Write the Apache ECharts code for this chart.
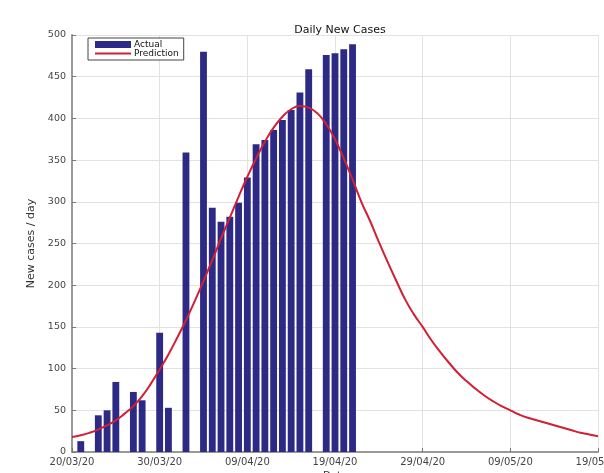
<!DOCTYPE html>
<html>
<head>
<meta charset="utf-8">
<script src="https://cdn.jsdelivr.net/npm/echarts@6/dist/echarts.min.js"></script>
<style>
  html, body { margin: 0; padding: 0; background: #fff; }
  #chart { width: 604px; height: 473px; }
</style>
</head>
<body>
<div id="chart"></div>
<script>
// Day labels from 20/03/20 to 19/05/20 (61 days)
const startDate = new Date(2020, 2, 20);
const dayCount = 61;
const dates = [];
for (let i = 0; i < dayCount; i++) {
  const d = new Date(startDate.getTime() + i * 86400000);
  const dd = String(d.getDate()).padStart(2, '0');
  const mm = String(d.getMonth() + 1).padStart(2, '0');
  dates.push(dd + '/' + mm + '/20');
}

// Reported daily new cases (null = no report that day)
const actual = [
  null, 13, null, 44, 50, 84, null, 72, 62, null,
  143, 53, null, 359, null, 480, 293, 276, 282, 299,
  329, 369, 374, 386, 398, 410, 431, 459, null, 476,
  478, 483, 489, null, null, null, null, null, null, null,
  null, null, null, null, null, null, null, null, null, null,
  null, null, null, null, null, null, null, null, null, null,
  null
];

// Model prediction of daily new cases
const prediction = [
  18, 20, 23, 27, 32, 38, 46, 55, 67, 82,
  99, 117, 137, 158, 181, 205, 230, 256, 281, 306,
  330, 352, 372, 389, 402, 411, 415, 413, 406, 393,
  375, 352, 327, 300, 277, 252, 228, 205, 183, 165,
  150, 134, 120, 107, 95, 85, 76, 68, 61, 55,
  50, 45, 41, 38, 35, 32, 29, 26, 23, 21,
  19
];

const font = 'DejaVu Sans';
const chart = echarts.init(document.getElementById('chart'));
chart.setOption({
  animation: false,
  backgroundColor: '#fff',
  title: {
    text: 'Daily New Cases',
    left: 335, top: 20,
    textAlign: 'center',
    textStyle: { fontFamily: font, fontSize: 11, fontWeight: 'normal', color: '#111' }
  },
  legend: {
    orient: 'vertical',
    left: 88, top: 38,
    padding: [2, 5, 2, 6],
    itemGap: 0,
    itemWidth: 36,
    itemHeight: 7,
    backgroundColor: '#fff',
    borderColor: '#444',
    borderWidth: 1,
    borderRadius: 0,
    textStyle: { fontFamily: font, fontSize: 9, color: '#111', padding: [0, 0, 0, -2] },
    data: [
      { name: 'Actual', icon: 'rect' },
      { name: 'Prediction', itemStyle: { opacity: 0 } }
    ]
  },
  grid: { left: 72, right: 6, top: 35, bottom: 21, containLabel: false, outerBoundsMode: 'none' },
  xAxis: {
    type: 'category',
    data: dates,
    boundaryGap: false,
    name: 'Date',
    nameLocation: 'middle',
    nameGap: 17,
    nameTextStyle: { fontFamily: font, fontSize: 10, color: '#333' },
    axisLine: { lineStyle: { color: '#999', width: 2 } },
    axisTick: { interval: 9, inside: true, length: 4, lineStyle: { color: '#777' } },
    axisLabel: { interval: 9, fontFamily: font, fontSize: 10, color: '#444', margin: 5, hideOverlap: false },
    splitLine: { show: true, interval: 9, lineStyle: { color: '#e2e2e2', width: 1 } }
  },
  yAxis: {
    type: 'value',
    min: 0, max: 500, interval: 50,
    name: 'New cases / day',
    nameLocation: 'middle',
    nameGap: 27,
    nameTextStyle: { fontFamily: font, fontSize: 11, color: '#333' },
    axisLine: { show: true, lineStyle: { color: '#999', width: 2 } },
    axisTick: { show: true, inside: true, length: 4, lineStyle: { color: '#777' } },
    axisLabel: { fontFamily: font, fontSize: 9.5, color: '#444', margin: 6 },
    splitLine: { show: true, lineStyle: { color: '#e2e2e2', width: 1 } }
  },
  series: [
    {
      name: 'Actual',
      type: 'bar',
      data: actual,
      barWidth: '78%',
      itemStyle: { color: '#2d2a86' },
      z: 2
    },
    {
      name: 'Prediction',
      type: 'line',
      data: prediction,
      smooth: true,
      symbol: 'none',
      lineStyle: { color: '#d11f35', width: 2 },
      itemStyle: { color: '#d11f35' },
      z: 3
    }
  ]
});
</script>
</body>
</html>
